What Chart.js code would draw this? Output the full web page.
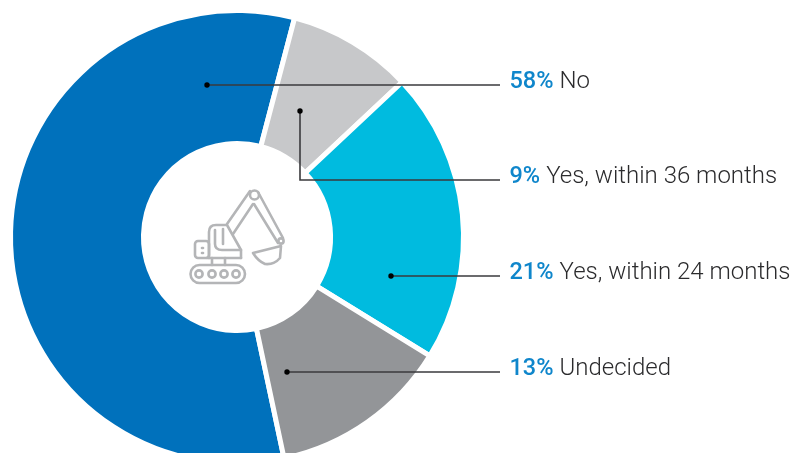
<!DOCTYPE html>
<html>
<head>
<meta charset="utf-8">
<style>
html,body{margin:0;padding:0;background:#fff;overflow:hidden;width:800px;height:453px}
canvas{display:block}
</style>
<script src="https://cdn.jsdelivr.net/npm/chart.js@4"></script>
</head>
<body>
<canvas id="c" width="800" height="474"></canvas>
<script>
const categories = ['No', 'Yes, within 36 months', 'Yes, within 24 months', 'Undecided'];
const shares = [58, 9, 21, 13];
const sliceColors = ['#0071bc', '#c7c8ca', '#00bbdf', '#939598'];

// Leader line routes: dot, then the label row the line runs along
const leaders = [
  {dot: [207, 85], row: 85},
  {dot: [300, 111], row: 180},
  {dot: [391, 276], row: 276},
  {dot: [287, 372], row: 372}
];

const leaderPlugin = {
  id: 'leaderLabels',
  afterDraw(chart) {
    const g = chart.ctx;
    g.save();
    leaders.forEach((l, i) => {
      const [x, y] = l.dot;
      g.strokeStyle = '#3a3a3c';
      g.lineWidth = 1.6;
      g.beginPath();
      g.moveTo(x, y);
      g.lineTo(x, l.row);
      g.lineTo(500, l.row);
      g.stroke();
      g.fillStyle = '#000';
      g.beginPath();
      g.arc(x, y, 2.7, 0, Math.PI * 2);
      g.fill();

      const base = l.row + 3;
      const pct = shares[i] + '%';
      g.textBaseline = 'alphabetic';
      g.font = '500 23.5px Roboto';
      g.fillStyle = '#0f86cb';
      g.fillText(pct, 509.5, base);
      const w = g.measureText(pct).width;
      g.font = '300 24px Roboto';
      g.fillStyle = '#2b2b2d';
      g.fillText(categories[i], 509.5 + w + 6, base);
    });
    g.restore();
  }
};

// Excavator pictogram in the middle of the ring
const iconPlugin = {
  id: 'excavatorIcon',
  afterDraw(chart) {
    const g = chart.ctx;
    const c = chart.getDatasetMeta(0).data[0];
    const ox = c.x - 237, oy = c.y - 237;
    g.save();
    g.translate(ox, oy);
    g.strokeStyle = '#b4b5b7';
    g.lineWidth = 2.6;
    g.lineJoin = 'round';
    g.lineCap = 'round';
    const path = pts => {
      g.beginPath();
      pts.forEach((p, i) => i ? g.lineTo(p[0], p[1]) : g.moveTo(p[0], p[1]));
      g.stroke();
    };
    // track and rollers
    g.beginPath();
    g.roundRect(190.5, 265, 54.5, 18, 9);
    g.stroke();
    [199, 212, 224, 236].forEach(x => {
      g.beginPath();
      g.arc(x, 274, 3.6, 0, Math.PI * 2);
      g.stroke();
    });
    // turret neck
    path([[212, 265], [212, 258]]);
    path([[225, 265], [225, 258]]);
    path([[207, 258], [241, 258]]);
    // engine block
    g.beginPath();
    g.roundRect(195, 241, 14, 17, 3);
    g.stroke();
    path([[202, 248], [203, 248]]);
    path([[202, 253], [203, 253]]);
    // cab outline
    g.beginPath();
    g.moveTo(209, 258);
    g.lineTo(209, 232);
    g.quadraticCurveTo(209, 225, 216, 225);
    g.lineTo(227, 225);
    g.lineTo(241, 250);
    g.lineTo(241, 258);
    g.stroke();
    // cab window and door pillar
    g.beginPath();
    g.moveTo(215, 230);
    g.lineTo(215, 244);
    g.quadraticCurveTo(215, 250, 222, 250);
    g.lineTo(241, 250);
    g.stroke();
    path([[223, 229], [223, 244]]);
    // boom
    path([[227, 224], [250, 191]]);
    path([[233, 234], [253, 204]]);
    g.beginPath();
    g.arc(254.5, 195, 4.5, 0, Math.PI * 2);
    g.stroke();
    // dipper arm
    path([[258, 192], [283, 238]]);
    path([[254, 204], [278, 243]]);
    g.beginPath();
    g.arc(281, 241, 2.6, 0, Math.PI * 2);
    g.stroke();
    // bucket
    g.beginPath();
    g.moveTo(253, 253);
    g.lineTo(281, 246);
    g.lineTo(280, 258);
    g.quadraticCurveTo(274, 265, 265, 264);
    g.quadraticCurveTo(258, 261, 253, 253);
    g.stroke();
    g.restore();
  }
};

new Chart(document.getElementById('c'), {
  type: 'doughnut',
  data: {
    labels: categories,
    datasets: [{
      data: shares,
      backgroundColor: sliceColors,
      borderColor: '#ffffff',
      borderWidth: 5,
      borderJoinStyle: 'miter'
    }]
  },
  options: {
    responsive: false,
    animation: false,
    rotation: 168,
    radius: 226.5,
    cutout: '41.3%',
    layout: {padding: {right: 326}},
    plugins: {legend: {display: false}, tooltip: {enabled: false}}
  },
  plugins: [leaderPlugin, iconPlugin]
});
</script>
</body>
</html>
